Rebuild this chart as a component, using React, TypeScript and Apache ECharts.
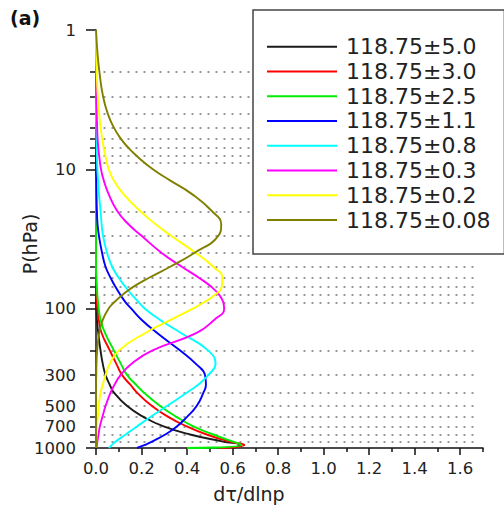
import React, { useEffect, useRef } from "react";
import * as echarts from "echarts";

// Pressure levels (hPa) shared by all profiles
const pressure = [1, 1.5, 2, 3, 4, 5, 6, 7, 8, 10, 12, 15, 20, 25, 30, 40, 50, 60, 70, 80, 90, 100, 120, 150, 200, 250, 300, 350, 400, 500, 600, 700, 800, 900, 950, 1000];

// dτ/dlnp profiles
const w50 = [0, 0, 0, 0, 0, 0, 0, 0, 0, 0, 0, 0, 0, 0, 0, 0, 0, 0, 0, 0, 0.001, 0.002, 0.004, 0.01, 0.02, 0.03, 0.042, 0.06, 0.079, 0.137, 0.21, 0.297, 0.413, 0.559, 0.63, 0.6];
const w30 = [0, 0, 0, 0, 0, 0, 0, 0, 0, 0, 0, 0, 0, 0, 0, 0, 0, 0, 0.001, 0.002, 0.004, 0.006, 0.012, 0.025, 0.061, 0.09, 0.115, 0.15, 0.18, 0.246, 0.319, 0.399, 0.486, 0.588, 0.652, 0.54];
const w25 = [0, 0, 0, 0, 0, 0, 0, 0, 0, 0, 0, 0, 0, 0, 0, 0, 0, 0.002, 0.004, 0.006, 0.009, 0.012, 0.02, 0.04, 0.079, 0.11, 0.137, 0.175, 0.21, 0.282, 0.355, 0.428, 0.515, 0.603, 0.639, 0.4];
const w11 = [0, 0, 0, 0, 0, 0, 0, 0, 0, 0, 0.001, 0.002, 0.004, 0.007, 0.013, 0.027, 0.042, 0.064, 0.086, 0.108, 0.13, 0.155, 0.2, 0.27, 0.37, 0.44, 0.479, 0.483, 0.472, 0.442, 0.399, 0.355, 0.304, 0.246, 0.215, 0.18];
const w08 = [0, 0, 0, 0, 0, 0.001, 0.002, 0.003, 0.004, 0.006, 0.009, 0.013, 0.02, 0.025, 0.031, 0.049, 0.071, 0.1, 0.13, 0.159, 0.188, 0.215, 0.28, 0.375, 0.493, 0.525, 0.493, 0.45, 0.4, 0.311, 0.239, 0.18, 0.13, 0.086, 0.07, 0.057];
const w03 = [0, 0, 0, 0.001, 0.003, 0.005, 0.007, 0.01, 0.014, 0.022, 0.034, 0.055, 0.094, 0.145, 0.2, 0.29, 0.377, 0.452, 0.508, 0.542, 0.559, 0.563, 0.52, 0.44, 0.246, 0.155, 0.108, 0.082, 0.064, 0.042, 0.028, 0.017, 0.011, 0.006, 0.004, 0.003];
const w02 = [0, 0.001, 0.003, 0.008, 0.014, 0.02, 0.027, 0.034, 0.041, 0.056, 0.078, 0.12, 0.195, 0.265, 0.33, 0.44, 0.515, 0.555, 0.552, 0.52, 0.475, 0.425, 0.33, 0.215, 0.1, 0.06, 0.042, 0.03, 0.02, 0.012, 0.008, 0.004, 0.002, 0.001, 0, 0];
const w008 = [0, 0.007, 0.015, 0.031, 0.052, 0.078, 0.108, 0.142, 0.178, 0.25, 0.325, 0.42, 0.51, 0.55, 0.537, 0.43, 0.326, 0.233, 0.162, 0.115, 0.08, 0.055, 0.03, 0.014, 0.005, 0.002, 0.001, 0, 0, 0, 0, 0, 0, 0, 0, 0];

const seriesNames = ["118.75±5.0", "118.75±3.0", "118.75±2.5", "118.75±1.1", "118.75±0.8", "118.75±0.3", "118.75±0.2", "118.75±0.08"];
const seriesValues = [w50, w30, w25, w11, w08, w03, w02, w008];
const seriesColors = ["#1a1a1a", "#ff0000", "#00ee00", "#0000ff", "#00ffff", "#ff00ff", "#ffff00", "#808000"];

// Axis ticks / labels
const yMajorTicks = [1, 10, 100, 1000];
const yMinorTicks = [2, 3, 4, 5, 6, 7, 8, 9, 20, 30, 40, 50, 60, 70, 80, 90, 200, 300, 400, 500, 600, 700, 800, 900];
const yLabels = [1, 10, 100, 300, 500, 700, 1000];
const xMajorTicks = [0, 0.2, 0.4, 0.6, 0.8, 1.0, 1.2, 1.4, 1.6];
const xMinorTicks = [0.1, 0.3, 0.5, 0.7, 0.9, 1.1, 1.3, 1.5, 1.7];
const gridLevels = yMinorTicks;

const FONT = "DejaVu Sans";

export default function App() {
  const ref = useRef<HTMLDivElement>(null);
  useEffect(() => {
    if (!ref.current) return;
    const chart = echarts.init(ref.current, undefined, { renderer: "svg" });
    const axisColor = "#111";
    const series: any[] = seriesNames.map((name, i) => ({
      name,
      type: "line",
      xAxisIndex: 0,
      yAxisIndex: 0,
      data: pressure.map((p, k) => [seriesValues[i][k], p]),
      smooth: 0.5,
      symbol: "none",
      showSymbol: false,
      lineStyle: { color: seriesColors[i], width: 1.9 },
      itemStyle: { color: seriesColors[i] },
      z: 3,
    }));
    series[0].markLine = {
      silent: true,
      z: 1,
      symbol: ["none", "none"],
      label: { show: false },
      lineStyle: { type: [2, 6], color: "#777", width: 1.5 },
      data: gridLevels.map((p) => [{ coord: [0.033, p] }, { coord: [1.677, p] }]),
    };
    chart.setOption({
      animation: false,
      backgroundColor: "#ffffff",
      grid: { left: 96, right: 21, top: 30, bottom: 59, containLabel: false },
      legend: {
        orient: "vertical",
        left: 253,
        top: 10,
        padding: [25.7, 14, 23, 14],
        icon: "rect",
        itemWidth: 70,
        itemHeight: 2,
        itemGap: 2.76,
        backgroundColor: "#ffffff",
        borderColor: "#444",
        borderWidth: 1.5,
        borderRadius: 0,
        z: 10,
        textStyle: { fontFamily: FONT, fontSize: 22, color: "#222", padding: [0, 0, 0, 4] },
        data: seriesNames,
      },
      xAxis: [
        {
          type: "value",
          min: 0,
          max: 1.7,
          interval: 0.2,
          axisLine: { show: true, onZero: false, lineStyle: { color: axisColor, width: 1.5 } },
          axisTick: { show: true, customValues: xMajorTicks, length: 7, lineStyle: { color: axisColor, width: 1.5 } },
          axisLabel: {
            customValues: xMajorTicks,
            formatter: (v: number) => v.toFixed(1),
            fontFamily: FONT,
            fontSize: 16.5,
            color: "#222",
            margin: 12,
          },
          splitLine: { show: false },
        },
        {
          type: "value",
          min: 0,
          max: 1.7,
          position: "bottom",
          axisLine: { show: false, onZero: false },
          axisTick: { show: true, customValues: xMinorTicks, length: 4, lineStyle: { color: axisColor, width: 1.5 } },
          axisLabel: { show: false },
          splitLine: { show: false },
        },
      ],
      yAxis: [
        {
          type: "log",
          logBase: 10,
          min: 1,
          max: 1000,
          inverse: true,
          axisLine: { show: true, onZero: false, lineStyle: { color: axisColor, width: 1.5 } },
          axisTick: { show: true, customValues: yMajorTicks, length: 10, lineStyle: { color: axisColor, width: 1.5 } },
          axisLabel: {
            customValues: yLabels,
            formatter: (v: number) => String(Math.round(v)),
            fontFamily: FONT,
            fontSize: 16.5,
            color: "#222",
            margin: 20,
          },
          splitLine: { show: false },
        },
        {
          type: "log",
          logBase: 10,
          min: 1,
          max: 1000,
          inverse: true,
          position: "left",
          axisLine: { show: false, onZero: false },
          axisTick: { show: true, customValues: yMinorTicks, length: 6, lineStyle: { color: axisColor, width: 1.5 } },
          axisLabel: { show: false },
          splitLine: { show: false },
        },
      ],
      graphic: [
        {
          type: "text",
          left: 10,
          top: 8,
          style: { text: "(a)", fontFamily: FONT, fontSize: 19, fontWeight: "bold", fill: "#111" },
        },
        {
          type: "text",
          x: 30,
          y: 244,
          rotation: Math.PI / 2,
          style: { text: "P(hPa)", fontFamily: FONT, fontSize: 19, fill: "#222", align: "center", verticalAlign: "middle" },
        },
        {
          type: "text",
          x: 249,
          y: 494,
          style: { text: "dτ/dlnp", fontFamily: FONT, fontSize: 19, fill: "#222", align: "center", verticalAlign: "middle" },
        },
      ],
      series,
    });
    return () => chart.dispose();
  }, []);
  return <div ref={ref} style={{ position: "fixed", left: 0, top: 0, width: 504, height: 507 }} />;
}
